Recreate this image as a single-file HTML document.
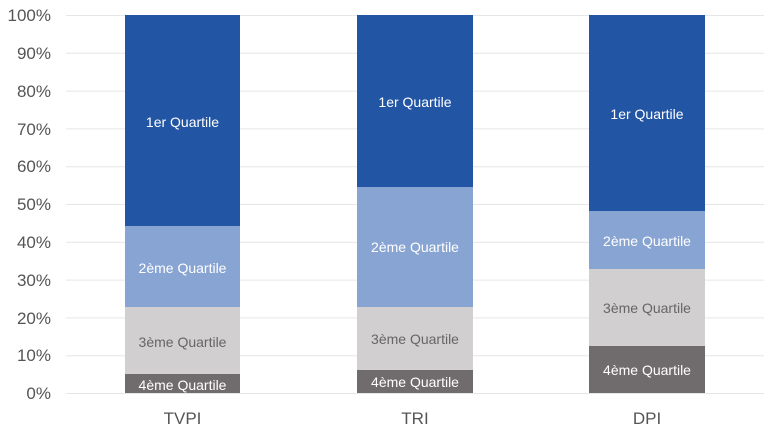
<!DOCTYPE html>
<html><head><meta charset="utf-8"><style>
html,body{margin:0;padding:0;background:#fff;}
svg{display:block;font-family:"Liberation Sans",sans-serif;}
</style></head><body>
<svg width="773" height="433" viewBox="0 0 773 433" xmlns="http://www.w3.org/2000/svg">
<g stroke="#e6e6e6" stroke-width="1">
<line x1="66" x2="764" y1="15.5" y2="15.5"/>
<line x1="66" x2="764" y1="53.3" y2="53.3"/>
<line x1="66" x2="764" y1="91.1" y2="91.1"/>
<line x1="66" x2="764" y1="128.9" y2="128.9"/>
<line x1="66" x2="764" y1="166.7" y2="166.7"/>
<line x1="66" x2="764" y1="204.5" y2="204.5"/>
<line x1="66" x2="764" y1="242.3" y2="242.3"/>
<line x1="66" x2="764" y1="280.1" y2="280.1"/>
<line x1="66" x2="764" y1="317.9" y2="317.9"/>
<line x1="66" x2="764" y1="355.7" y2="355.7"/>
<line x1="66" x2="764" y1="393.5" y2="393.5"/>
</g>
<g fill="#555" font-size="17" text-anchor="end">
<text x="51" y="21">100%</text>
<text x="51" y="59">90%</text>
<text x="51" y="97">80%</text>
<text x="51" y="135">70%</text>
<text x="51" y="172">60%</text>
<text x="51" y="210">50%</text>
<text x="51" y="248">40%</text>
<text x="51" y="286">30%</text>
<text x="51" y="324">20%</text>
<text x="51" y="361">10%</text>
<text x="51" y="399">0%</text>
</g>
<!-- TVPI -->
<rect x="125" y="15" width="115" height="211" fill="#2255a3"/>
<rect x="125" y="226" width="115" height="81" fill="#87a4d2"/>
<rect x="125" y="307" width="115" height="67" fill="#d1cfd0"/>
<rect x="125" y="374" width="115" height="19" fill="#706b6c"/>
<!-- TRI -->
<rect x="357" y="15" width="116" height="172" fill="#2255a3"/>
<rect x="357" y="187" width="116" height="120" fill="#87a4d2"/>
<rect x="357" y="307" width="116" height="63" fill="#d1cfd0"/>
<rect x="357" y="370" width="116" height="23" fill="#706b6c"/>
<!-- DPI -->
<rect x="589" y="15" width="116" height="196" fill="#2255a3"/>
<rect x="589" y="211" width="116" height="58" fill="#87a4d2"/>
<rect x="589" y="269" width="116" height="77" fill="#d1cfd0"/>
<rect x="589" y="346" width="116" height="47" fill="#706b6c"/>
<g font-size="14" text-anchor="middle">
<text x="182.5" y="127" fill="#fff">1er Quartile</text>
<text x="182.5" y="273" fill="#fff">2ème Quartile</text>
<text x="182.5" y="347" fill="#666">3ème Quartile</text>
<text x="182.5" y="390" fill="#fff">4ème Quartile</text>
<text x="415" y="107" fill="#fff">1er Quartile</text>
<text x="415" y="252" fill="#fff">2ème Quartile</text>
<text x="415" y="344" fill="#666">3ème Quartile</text>
<text x="415" y="387" fill="#fff">4ème Quartile</text>
<text x="647" y="119" fill="#fff">1er Quartile</text>
<text x="647" y="246" fill="#fff">2ème Quartile</text>
<text x="647" y="313" fill="#666">3ème Quartile</text>
<text x="647" y="375" fill="#fff">4ème Quartile</text>
</g>
<g fill="#555" font-size="17" text-anchor="middle">
<text x="182.5" y="424">TVPI</text>
<text x="415" y="424">TRI</text>
<text x="647" y="424">DPI</text>
</g>
</svg>
</body></html>
